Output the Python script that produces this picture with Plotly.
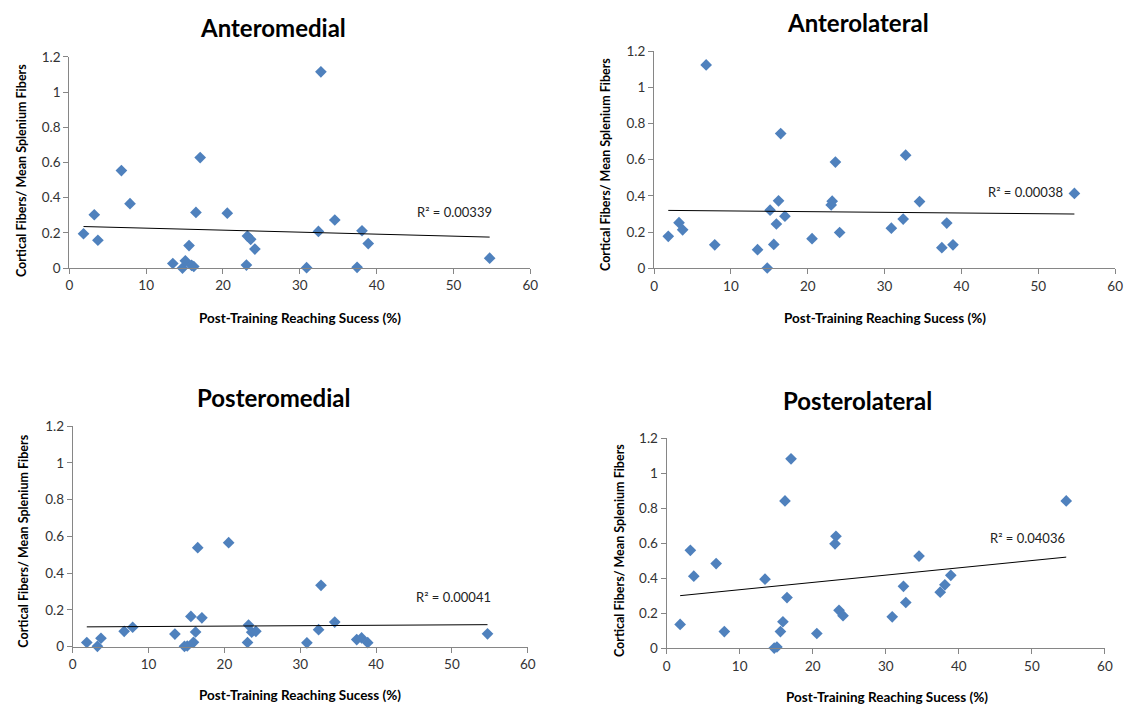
import plotly.graph_objects as go

W, H = 1135, 717

# ---- data ----
x_success = [1.85, 3.25, 3.72, 6.78, 7.9, 13.47, 14.73, 15.1, 15.58, 15.92, 16.2, 16.48, 17.03,
             20.56, 23.05, 23.18, 23.6, 24.15, 30.88, 32.42, 32.74, 34.55, 37.45, 38.09, 38.9, 54.7]

anteromedial = [0.195, 0.303, 0.158, 0.554, 0.366, 0.026, 0.0, 0.041, 0.128, 0.015, 0.009, 0.316, 0.628,
                0.312, 0.017, 0.182, 0.163, 0.108, 0.002, 0.208, 1.115, 0.273, 0.004, 0.212, 0.139, 0.056]
anterolateral = [0.177, 0.252, 0.213, 1.123, 0.130, 0.103, 0.002, 0.321, 0.132, 0.245, 0.373, 0.744, 0.288,
                 0.164, 0.350, 0.371, 0.587, 0.198, 0.222, 0.272, 0.625, 0.369, 0.114, 0.250, 0.130, 0.414]
posteromedial = [0.023, 0.002, 0.046, 0.084, 0.106, 0.069, 0.002, 0.004, 0.165, 0.024, 0.080, 0.539, 0.157,
                 0.566, 0.023, 0.118, 0.079, 0.084, 0.021, 0.093, 0.334, 0.134, 0.039, 0.048, 0.022, 0.070]
posterolateral = [0.137, 0.560, 0.412, 0.484, 0.096, 0.395, 0.002, 0.008, 0.096, 0.152, 0.842, 0.290, 1.082,
                  0.085, 0.597, 0.640, 0.217, 0.187, 0.180, 0.354, 0.262, 0.527, 0.321, 0.363, 0.417, 0.842]

panel_titles = ["Anteromedial", "Anterolateral", "Posteromedial", "Posterolateral"]
panel_values = [anteromedial, anterolateral, posteromedial, posterolateral]
trend_start = [0.236, 0.320, 0.108, 0.301]   # trend value at min x
trend_end = [0.176, 0.300, 0.120, 0.521]     # trend value at max x
r2_labels = ["R² = 0.00339", "R² = 0.00038", "R² = 0.00041", "R² = 0.04036"]
r2_pos = [(45.0, 0.32), (43.2, 0.424), (45.0, 0.271), (44.0, 0.632)]

x_ticks = [0, 10, 20, 30, 40, 50, 60]
y_ticks = [0, 0.2, 0.4, 0.6, 0.8, 1.0, 1.2]
y_tick_text = ["0", "0.2", "0.4", "0.6", "0.8", "1", "1.2"]
x_title = "Post-Training Reaching Sucess (%)"
y_title = "Cortical Fibers/ Mean Splenium Fibers"

# ---- layout geometry (pixels) ----
# (left, right, top, bottom) of each plot area
areas = [(66, 532, 50, 266), (657, 1123, 44, 266.3), (69.5, 529.3, 427.7, 653.3), (669.7, 1112.7, 440, 655)]
title_pos = [(272, 20), (863, 15), (272, 398), (863, 401)]
xtitle_pos = [(299, 317), (890, 317), (299, 703), (892, 705)]
ytitle_pos = [(17, 166), (608, 160), (20, 545), (622, 555)]

FONT = "Lato, Carlito, Calibri, 'Open Sans', sans-serif"
BLUE = "#4F81BD"
AXC = "#868686"

def px(x):
    return x / W

def py(y):
    return 1 - y / H

fig = go.Figure()
annotations = []

for i in range(4):
    ax = "" if i == 0 else str(i + 1)
    xa, ya = "x" + ax, "y" + ax
    l, r, t, b = areas[i]
    fig.add_trace(go.Scatter(
        x=x_success, y=panel_values[i], mode="markers", xaxis=xa, yaxis=ya,
        marker=dict(symbol="diamond", size=9, color=BLUE, line=dict(width=0)),
        cliponaxis=False, showlegend=False, hoverinfo="x+y"))
    xmin, xmax = min(x_success), max(x_success)
    fig.add_trace(go.Scatter(
        x=[xmin, xmax], y=[trend_start[i], trend_end[i]], mode="lines", xaxis=xa, yaxis=ya,
        line=dict(color="black", width=1), showlegend=False, hoverinfo="skip"))
    axis_common = dict(showgrid=False, zeroline=False, showline=True, linecolor=AXC, linewidth=1,
                       ticks="outside", ticklen=5, tickcolor=AXC, tickwidth=1,
                       tickfont=dict(family=FONT, size=13.5, color="#333333"), fixedrange=True)
    fig.update_layout(**{
        "xaxis" + ax: dict(domain=[px(l), px(r)], range=[0, 60], tickmode="array", tickvals=x_ticks,
                           anchor=ya, **axis_common),
        "yaxis" + ax: dict(domain=[py(b), py(t)], range=[0, 1.2], tickmode="array", tickvals=y_ticks,
                           ticktext=y_tick_text, anchor=xa, **axis_common),
    })
    annotations.append(dict(x=r2_pos[i][0], y=r2_pos[i][1], xref=xa, yref=ya, text=r2_labels[i],
                            showarrow=False, xanchor="left", yanchor="middle",
                            font=dict(family=FONT, size=13, color="#222222")))
    annotations.append(dict(x=px(title_pos[i][0]), y=py(title_pos[i][1]), xref="paper", yref="paper",
                            text="<b>%s</b>" % panel_titles[i], showarrow=False,
                            xanchor="center", yanchor="middle",
                            font=dict(family=FONT, size=24, color="black")))
    annotations.append(dict(x=px(xtitle_pos[i][0]), y=py(xtitle_pos[i][1]), xref="paper", yref="paper",
                            text="<b>%s</b>" % x_title, showarrow=False,
                            xanchor="center", yanchor="middle",
                            font=dict(family=FONT, size=13.5, color="black")))
    annotations.append(dict(x=px(ytitle_pos[i][0]), y=py(ytitle_pos[i][1]), xref="paper", yref="paper",
                            text="<b>%s</b>" % y_title, showarrow=False, textangle=-90,
                            xanchor="center", yanchor="middle",
                            font=dict(family=FONT, size=12.5, color="black")))

fig.update_layout(width=W, height=H, margin=dict(l=0, r=0, t=0, b=0),
                  paper_bgcolor="white", plot_bgcolor="white", annotations=annotations,
                  font=dict(family=FONT))

fig.write_html("out.html", config={"displayModeBar": False})
